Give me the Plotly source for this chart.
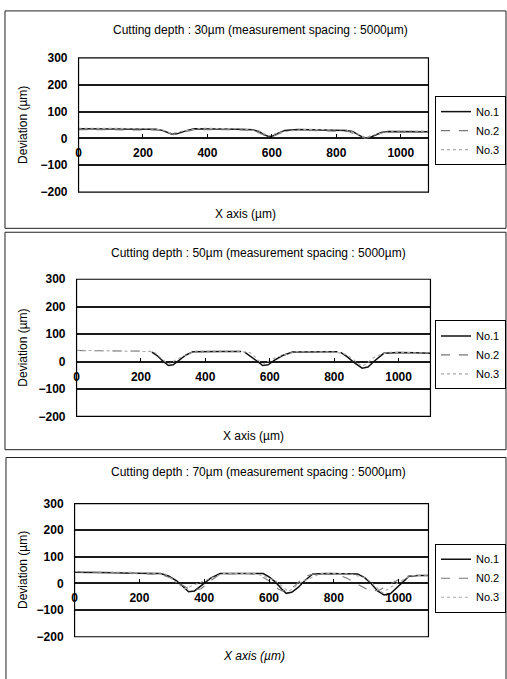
import plotly.graph_objects as go

W, H = 507, 679

# ---------------- data ----------------
titles = ["Cutting depth : 30\u00b5m (measurement spacing : 5000\u00b5m)",
          "Cutting depth : 50\u00b5m (measurement spacing : 5000\u00b5m)",
          "Cutting depth : 70\u00b5m (measurement spacing : 5000\u00b5m)"]
legend_names = [["No.1", "No.2", "No.3"],
                ["No.1", "No.2", "No.3"],
                ["No.1", "N0.2", "No.3"]]
x_ticks = [0, 200, 400, 600, 800, 1000]
y_ticks = [-200, -100, 0, 100, 200, 300]

# Panel 1 (30 um)
p1_x1 = [0, 50, 100, 150, 200, 240, 260, 275, 290, 305, 320, 340, 360, 400, 450, 500, 540, 560, 575, 590,
         605, 620, 640, 680, 720, 760, 800, 830, 850, 865, 880, 890, 905, 920, 940, 960, 1000, 1050, 1090]
p1_y1 = [36, 36, 35, 35, 35, 34, 30, 22, 16, 17, 24, 31, 36, 36, 35, 34, 32, 26, 14, 7,
         10, 20, 30, 33, 32, 31, 31, 30, 26, 15, 6, 2, 4, 12, 22, 26, 26, 25, 25]
p1_x2 = [0, 100, 200, 250, 280, 295, 320, 360, 450, 540, 570, 592, 615, 650, 750, 840, 870, 890, 915, 950, 1000, 1090]
p1_y2 = [33, 33, 32, 31, 20, 14, 22, 33, 33, 30, 16, 5, 14, 30, 29, 25, 10, 0, 10, 24, 24, 23]
p1_x3 = [0, 100, 200, 260, 290, 320, 380, 500, 560, 590, 620, 700, 830, 865, 890, 920, 980, 1090]
p1_y3 = [38, 38, 37, 32, 19, 27, 38, 36, 28, 9, 22, 34, 32, 17, 4, 14, 28, 27]

# Panel 2 (50 um) -- None marks breaks in the trace
p2_x1 = [234, 250, 265, 285, 300, 320, 340, 362, 400, 450, 511, 516, 522, 540, 560, 578, 595, 615, 640, 671,
         720, 770, 810, 815, 820, 840, 860, 887, 905, 925, 954, 1000, 1050, 1100]
p2_y1 = [34, 22, 5, -14, -12, 5, 24, 36, 37, 37, 37, None, 34, 20, 2, -14, -12, 5, 22, 35,
         36, 36, 36, None, 33, 18, -2, -24, -20, 2, 30, 33, 32, 30]
p2_x2 = [0, 40, 80, 120, 160, 200, 230]
p2_y2 = [40, 40, 39, 39, 38, 38, 37]
p2_x3 = [0, 100, 200, 240, 285, 330, 370, 500, 540, 578, 620, 680, 800, 840, 887, 930, 970, 1100]
p2_y3 = [41, 40, 39, 36, -10, 20, 38, 38, 32, -10, 15, 36, 35, 25, -18, 20, 34, 31]

# Panel 3 (70 um)
p3_x1 = [0, 60, 127, 180, 230, 265, 290, 315, 335, 352, 370, 395, 420, 449, 500, 540, 582, 600, 620, 640,
         653, 670, 690, 710, 735, 780, 830, 873, 895, 915, 935, 955, 975, 995, 1015, 1032, 1060, 1090]
p3_y1 = [42, 42, 40, 38, 37, 37, 28, 10, -12, -31, -28, -5, 20, 37, 38, 38, 37, 25, 5, -22,
         -37, -33, -15, 10, 36, 37, 37, 36, 22, 0, -28, -43, -38, -15, 10, 27, 30, 30]
p3_x2 = [0, 60, 127, 180, 230, 265, 300, 330, 360, 390, 420, 449, 500, 540, 570, 600, 620, 640, 660, 680,
         700, 720, 740, 780, 812, 840, 870, 900, 914, 940, 970, 1000, 1030, 1060, 1090]
p3_y2 = [44, 43, 40, 38, 36, 34, 20, -5, -25, -20, 10, 35, 37, 37, 30, 10, -15, -28, -25, -8,
         15, 30, 36, 35, 33, 20, 0, -20, -30, -25, -5, 15, 28, 30, 30]
p3_x3 = [0, 100, 200, 280, 340, 400, 460, 560, 620, 660, 700, 760, 850, 900, 950, 1000, 1040, 1090]
p3_y3 = [45, 44, 41, 35, -20, 10, 38, 37, 10, -30, 5, 38, 36, 20, -35, 5, 30, 31]

panels = [
    [(p1_x1, p1_y1), (p1_x2, p1_y2), (p1_x3, p1_y3)],
    [(p2_x1, p2_y1), (p2_x2, p2_y2), (p2_x3, p2_y3)],
    [(p3_x1, p3_y1), (p3_x2, p3_y2), (p3_x3, p3_y3)],
]

# ---------------- layout geometry (pixels) ----------------
def fx(px):
    return px / W

def fy(py):
    return 1 - py / H

plot_boxes = [(76, 52, 428, 189), (74, 278, 430, 418), (72, 507, 428, 643)]
x_max = [1086, 1099, 1092]
outer_boxes = [(2, 4, 506, 226), (2, 230, 506, 452), (3, 460, 506, 690)]
title_pos = [(259, 23), (257, 251), (257, 475)]
xtitle_pos = [(244, 211), (252, 438), (252, 663)]
legend_pos = [(506, 91), (506, 320), (506, 548)]

styles = [dict(color="#111111", width=1.5, dash="solid"),
          dict(color="#777777", width=1.1, dash="dash"),
          dict(color="#aaaaaa", width=1.1, dash="dot")]

FONT = "Liberation Sans, Arial, sans-serif"

fig = go.Figure()
layout = dict(width=W, height=H, margin=dict(l=0, r=0, t=0, b=0),
              paper_bgcolor="white", plot_bgcolor="white", showlegend=True,
              font=dict(family=FONT, color="black", size=12))
shapes = []
annotations = []

for i in range(3):
    n = i + 1
    xa = "x" if n == 1 else f"x{n}"
    ya = "y" if n == 1 else f"y{n}"
    lg = "legend" if n == 1 else f"legend{n}"
    for j, (xs, ys) in enumerate(panels[i]):
        fig.add_trace(go.Scatter(x=xs, y=ys, mode="lines", name=legend_names[i][j],
                                 line=styles[j], xaxis=xa, yaxis=ya, legend=lg,
                                 connectgaps=False))
    x0, y0, x1, y1 = plot_boxes[i]
    ydom = [fy(y1), fy(y0)]
    zero_pos = ydom[0] + (0 - (-200)) / 500 * (ydom[1] - ydom[0])
    xkey = "xaxis" if n == 1 else f"xaxis{n}"
    ykey = "yaxis" if n == 1 else f"yaxis{n}"
    layout[xkey] = dict(domain=[fx(x0), fx(x1)], range=[0, x_max[i]], anchor="free",
                        position=zero_pos, tickvals=x_ticks, ticks="inside", ticklen=4,
                        tickcolor="black", showgrid=False, zeroline=False, showline=False,
                        ticklabelstandoff=6,
                        tickfont=dict(family=FONT, size=12, color="black", weight="bold"))
    layout[ykey] = dict(domain=ydom, range=[-200, 300], tickvals=y_ticks, anchor=xa,
                        showgrid=True, gridcolor="#1a1a1a", gridwidth=1.6,
                        zeroline=True, zerolinecolor="#1a1a1a", zerolinewidth=1.6,
                        showline=False, ticks="", ticklabelstandoff=10,
                        tickfont=dict(family=FONT, size=12, color="black", weight="bold"))
    lx, ly = legend_pos[i]
    layout[lg] = dict(x=fx(lx), y=fy(ly), xanchor="right", yanchor="top",
                      bordercolor="black", borderwidth=1, bgcolor="white",
                      font=dict(family=FONT, size=11, color="black"),
                      itemwidth=30, tracegroupgap=0)
    # plot-area border
    shapes.append(dict(type="rect", xref=f"{xa} domain", yref=f"{ya} domain",
                       x0=0, x1=1, y0=0, y1=1, line=dict(color="black", width=1.2)))
    # panel frame
    ox0, oy0, ox1, oy1 = outer_boxes[i]
    shapes.append(dict(type="rect", xref="paper", yref="paper", x0=fx(ox0), x1=fx(ox1),
                       y0=fy(oy1), y1=fy(oy0), line=dict(color="#222222", width=1)))
    tx, ty = title_pos[i]
    annotations.append(dict(text=titles[i], x=fx(tx), y=fy(ty), xref="paper", yref="paper",
                            showarrow=False, xanchor="center", yanchor="middle",
                            font=dict(family=FONT, size=12, color="black")))
    ax, ay = xtitle_pos[i]
    xt = "X axis (\u00b5m)" if i < 2 else "<i>X axis (\u00b5m)</i>"
    annotations.append(dict(text=xt, x=fx(ax), y=fy(ay), xref="paper", yref="paper",
                            showarrow=False, xanchor="center", yanchor="middle",
                            font=dict(family=FONT, size=12, color="black")))
    annotations.append(dict(text="Deviation (\u00b5m)", x=fx(20), y=(ydom[0] + ydom[1]) / 2,
                            xref="paper", yref="paper", showarrow=False, textangle=-90,
                            xanchor="center", yanchor="middle",
                            font=dict(family=FONT, size=12, color="black")))

layout["shapes"] = shapes
layout["annotations"] = annotations
fig.update_layout(**layout)
fig.write_html("out.html", config={"displayModeBar": False},
               post_script="document.body.style.margin='0';document.body.style.overflow='hidden';")
